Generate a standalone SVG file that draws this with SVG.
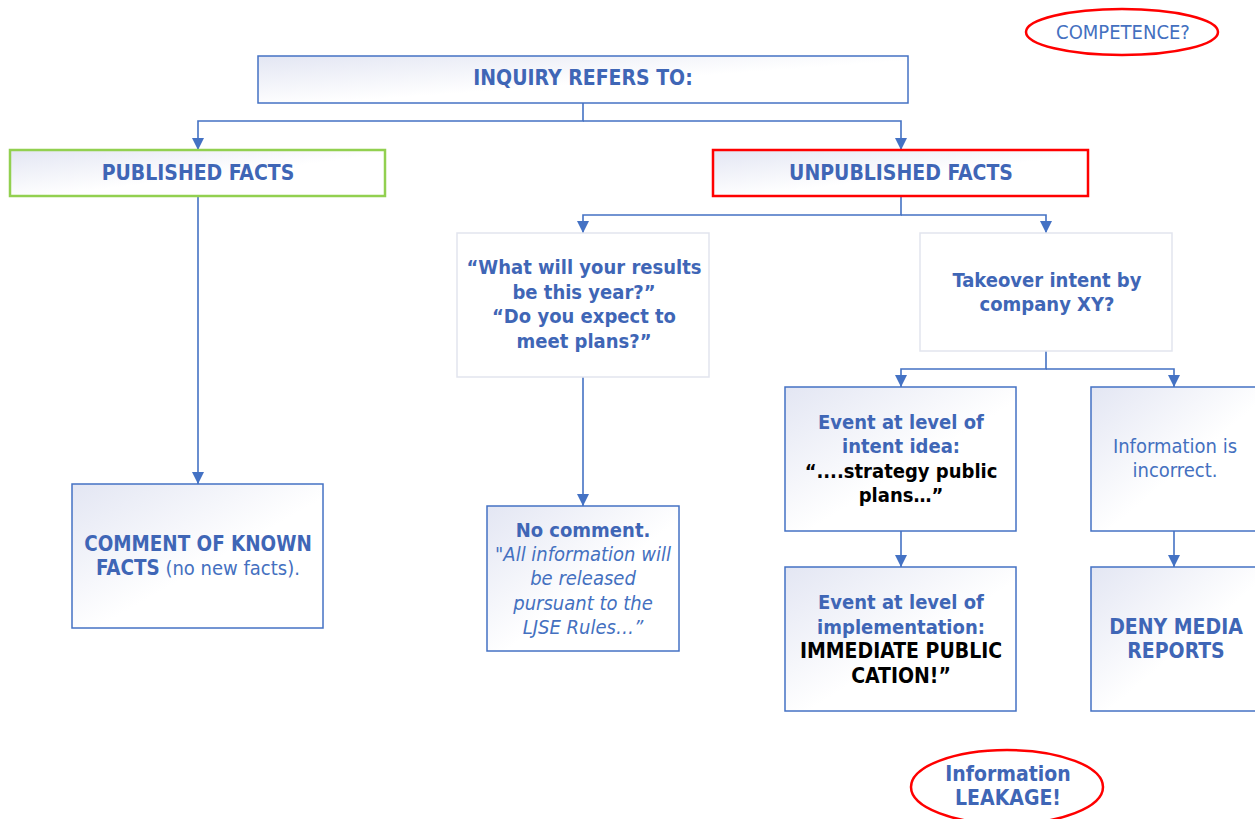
<svg xmlns="http://www.w3.org/2000/svg" width="1255" height="819" viewBox="0 0 1255 819">
<style>
text{font-family:"DejaVu Sans Condensed","DejaVu Sans",sans-serif;font-stretch:condensed;font-size:20px;text-anchor:middle;fill:#4470c0}
.b{font-weight:bold;fill:#3f66b6}
.k{font-weight:bold;fill:#000}
.c{font-size:21px}
.i{font-style:italic}
.box{fill:url(#g);stroke:#4472c4;stroke-width:1.5}
.pale{fill:#fff;stroke:#e2e5ee;stroke-width:1.5}
.conn path{fill:none;stroke:#4472c4;stroke-width:1.6}
.oval{fill:none;stroke:#f00;stroke-width:2.5}
</style>
<defs>
<linearGradient id="g" x1="0" y1="0" x2="1" y2="1">
<stop offset="0" stop-color="#e3e6f3"/>
<stop offset="0.55" stop-color="#ffffff"/>
</linearGradient>
<marker id="a" markerUnits="userSpaceOnUse" markerWidth="13" markerHeight="13" refX="12" refY="6.5" orient="auto">
<path d="M0,0.5 L12,6.5 L0,12.5 z" fill="#4472c4"/>
</marker>
</defs>
<g id="competence"><ellipse class="oval" cx="1122" cy="32" rx="96" ry="23"/><text x="1123" y="39">COMPETENCE?</text></g>
<g class="conn" id="connectors">
<path d="M583,103 V121 H198 V150" marker-end="url(#a)"/>
<path d="M583,121 H901 V150" marker-end="url(#a)"/>
<path d="M198,196 V484" marker-end="url(#a)"/>
<path d="M901,196 V215 H583 V233" marker-end="url(#a)"/>
<path d="M901,215 H1046 V233" marker-end="url(#a)"/>
<path d="M583,377 V506" marker-end="url(#a)"/>
<path d="M1046,351 V369 H901 V387" marker-end="url(#a)"/>
<path d="M1046,369 H1174 V387" marker-end="url(#a)"/>
<path d="M901,531 V567" marker-end="url(#a)"/>
<path d="M1174,531 V567" marker-end="url(#a)"/>
</g>
<g id="inquiry"><rect class="box" x="258" y="56" width="650" height="47"/><text class="b c" x="583" y="85">INQUIRY REFERS TO:</text></g>
<g id="published"><rect class="box" x="10" y="150" width="375" height="46" style="stroke:#92d050;stroke-width:2.5"/><text class="b c" x="198" y="180">PUBLISHED FACTS</text></g>
<g id="unpublished"><rect class="box" x="713" y="150" width="375" height="46" style="stroke:#f00;stroke-width:2.5"/><text class="b c" x="901" y="180">UNPUBLISHED FACTS</text></g>
<g id="comment"><rect class="box" x="72" y="484" width="251" height="144"/>
<text class="b" x="198" y="551" style="font-size:20.4px">COMMENT OF KNOWN</text>
<text x="198" y="575"><tspan class="b" style="font-size:20.4px">FACTS</tspan> (no new facts).</text></g>
<g id="question"><rect class="pale" x="457" y="233" width="252" height="144"/>
<text class="b" x="584" y="274">“What will your results</text>
<text class="b" x="584" y="299">be this year?”</text>
<text class="b" x="584" y="323">“Do you expect to</text>
<text class="b" x="584" y="348">meet plans?”</text></g>
<g id="takeover"><rect class="pale" x="920" y="233" width="252" height="118"/>
<text class="b" x="1047" y="287">Takeover intent by</text>
<text class="b" x="1047" y="311">company XY?</text></g>
<g id="nocomment"><rect class="box" x="487" y="506" width="192" height="145"/>
<text class="b" x="583" y="537">No comment.</text>
<text class="i" x="583" y="561">"All information will</text>
<text class="i" x="583" y="585">be released</text>
<text class="i" x="583" y="610">pursuant to the</text>
<text class="i" x="583" y="634">LJSE Rules…”</text></g>
<g id="intent"><rect class="box" x="785" y="387" width="231" height="144"/>
<text class="b" x="901" y="429">Event at level of</text>
<text class="b" x="901" y="453">intent idea:</text>
<text class="k" x="901" y="478">“....strategy public</text>
<text class="k" x="901" y="502">plans…”</text></g>
<g id="incorrect"><rect class="box" x="1091" y="387" width="170" height="144"/>
<text x="1175" y="453">Information is</text>
<text x="1175" y="477">incorrect.</text></g>
<g id="implementation"><rect class="box" x="785" y="567" width="231" height="144"/>
<text class="b" x="901" y="609">Event at level of</text>
<text class="b" x="901" y="634">implementation:</text>
<text class="k c" x="901" y="658">IMMEDIATE PUBLIC</text>
<text class="k c" x="901" y="683">CATION!”</text></g>
<g id="deny"><rect class="box" x="1091" y="567" width="170" height="144"/>
<text class="b c" x="1176" y="634">DENY MEDIA</text>
<text class="b c" x="1176" y="658">REPORTS</text></g>
<g id="leakage"><ellipse class="oval" cx="1007" cy="787" rx="96" ry="37"/>
<text class="b c" x="1008" y="781">Information</text>
<text class="b c" x="1008" y="805">LEAKAGE!</text></g>
</svg>
